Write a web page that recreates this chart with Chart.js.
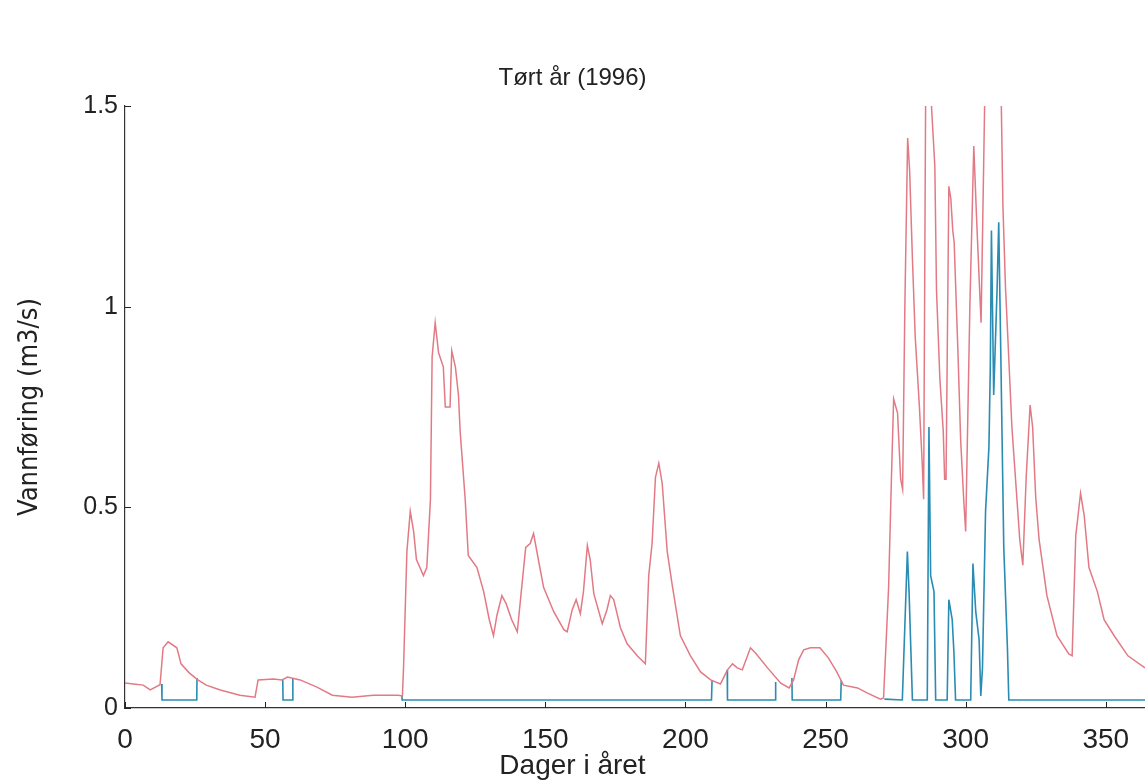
<!DOCTYPE html>
<html>
<head>
<meta charset="utf-8">
<script src="https://cdn.jsdelivr.net/npm/chart.js@4.4.1/dist/chart.umd.min.js"></script>
<style>
  html, body { margin: 0; padding: 0; background: #fff; }
  #wrap { width: 1145px; height: 783px; position: relative; }
</style>
</head>
<body>
<div id="wrap"><canvas id="flowChart"></canvas></div>
<script>
// Vannføring, tørt år 1996 (dag i året -> m3/s), lest av fra figuren
var redDays = [0, 3, 6.5, 9, 12.5, 13.6, 15.4, 18.5, 20, 23, 26, 29, 34, 41, 46.4, 47.5, 53, 56, 58, 62.5,
  68.5, 74, 81, 88.6, 97.5, 99, 99.4, 100.6, 101.8, 103, 104, 106.5, 107.7, 109, 109.6, 110.7, 111.9, 113.6,
  114.3, 116, 116.6, 117.9, 119, 119.6, 121.4, 122.5, 125.6, 128, 130, 131.5, 132.7, 134.5, 136, 138, 140,
  141.7, 143, 144.6, 145.8, 147.5, 149.4, 153, 156.6, 157.8, 159.6, 161, 162.5, 163.6, 165, 166, 167.3,
  170.3, 172, 173.2, 174.4, 176.8, 179.2, 182.8, 185.7, 186.9, 188.1, 189.3, 190.5, 191.7, 193.5, 195.2,
  198.2, 201.8, 205.4, 209, 212.5, 215, 216.8, 218.5, 220.3, 223.2, 225, 229.3, 234, 237, 238.6, 240.4,
  242.2, 244.6, 248, 251, 254, 256.4, 261.4, 265, 269.6, 270.7, 272.5, 273.5, 274.3, 275.7, 276.8, 277.5,
  278.3, 279.3, 280, 281, 282, 283.5, 284.5, 285, 285.7, 286.8, 287.8, 289, 289.6, 290.8, 292, 292.5, 293,
  294, 294.7, 295.4, 295.9, 297.3, 298.2, 299.3, 300, 301.5, 302.9, 303.9, 305, 305.5, 307, 310, 312.5,
  313.3, 314.2, 315.2, 316.5, 318, 319.3, 320.4, 321.6, 323, 323.9, 325, 326.2, 329, 332.6, 336.8, 338,
  339.3, 341, 342.3, 344, 347, 349.4, 353, 357.9, 364];
var redFlow = [0.062, 0.060, 0.057, 0.045, 0.058, 0.15, 0.165, 0.15, 0.11, 0.087, 0.07, 0.057, 0.045, 0.032, 0.027, 0.07, 0.072, 0.07, 0.077, 0.07,
  0.052, 0.032, 0.027, 0.032, 0.032, 0.03, 0.10, 0.39, 0.49, 0.44, 0.37, 0.33, 0.35, 0.52, 0.875, 0.96, 0.885, 0.85,
  0.75, 0.75, 0.89, 0.85, 0.78, 0.69, 0.52, 0.38, 0.35, 0.29, 0.22, 0.18, 0.23, 0.28, 0.26, 0.22, 0.19,
  0.31, 0.40, 0.41, 0.435, 0.37, 0.30, 0.24, 0.195, 0.19, 0.245, 0.27, 0.235, 0.29, 0.405, 0.37, 0.285,
  0.21, 0.245, 0.28, 0.27, 0.20, 0.16, 0.13, 0.11, 0.33, 0.41, 0.575, 0.61, 0.56, 0.39, 0.31,
  0.18, 0.13, 0.09, 0.07, 0.06, 0.095, 0.11, 0.10, 0.095, 0.15, 0.137, 0.10, 0.062, 0.05, 0.07, 0.12,
  0.145, 0.15, 0.15, 0.125, 0.09, 0.057, 0.05, 0.037, 0.022, 0.025, 0.30, 0.57, 0.77, 0.735, 0.57, 0.545,
  1.0, 1.42, 1.34, 1.12, 0.925, 0.75, 0.61, 0.52, 1.5, 1.7, 1.5, 1.35, 1.04, 0.82, 0.69, 0.57, 0.57,
  1.3, 1.27, 1.19, 1.16, 0.875, 0.67, 0.52, 0.44, 1.0, 1.40, 1.22, 1.04, 0.96, 1.6, 1.9, 1.6,
  1.25, 1.05, 0.9, 0.7, 0.55, 0.42, 0.356, 0.575, 0.755, 0.70, 0.525, 0.42, 0.28, 0.18, 0.135, 0.13,
  0.43, 0.535, 0.48, 0.35, 0.29, 0.22, 0.18, 0.13, 0.10];

// blå serie: null der den ligger under den røde
var blueDays = [13.1, 13.2, 25.6, 25.7, 30, 56.3, 56.4, 59.8, 59.9, 70, 98.8, 98.9, 209.3, 209.5, 212,
  214.9, 215, 232, 232.2, 235, 238, 238.1, 255.4, 255.6, 262, 271, 277.4, 279.2, 279.8, 281, 286.3,
  286.9, 287.5, 288.7, 289.3, 293.4, 294, 295.2, 295.8, 296.4, 301.8, 302.6, 303.6, 304.8, 305.4, 306,
  307.1, 308.3, 308.8, 309.2, 310, 311.2, 311.8, 312.5, 313.6, 314.9, 315.4, 364];
var blueFlow = [0.06, 0.02, 0.02, 0.075, null, 0.07, 0.02, 0.02, 0.075, null, 0.032, 0.02, 0.02, 0.07, null,
  0.095, 0.02, 0.02, 0.065, null, 0.075, 0.02, 0.02, 0.07, null, 0.022, 0.02, 0.39, 0.29, 0.02, 0.02,
  0.70, 0.33, 0.29, 0.02, 0.02, 0.27, 0.22, 0.14, 0.02, 0.02, 0.36, 0.24, 0.17, 0.03, 0.1,
  0.49, 0.65, 0.85, 1.19, 0.78, 1.04, 1.21, 0.9, 0.4, 0.15, 0.02, 0.02];

var yTicks = [0, 0.5, 1, 1.5];
var yTickLabels = ['0', '0.5', '1', '1.5'];
var xTicks = [0, 50, 100, 150, 200, 250, 300, 350];

function toPoints(days, vals) {
    return days.map(function (d, i) { return { x: d, y: vals[i] }; });
}

// små tick-streker som peker inn i plottet
var innerTicks = {
    id: 'innerTicks',
    afterDatasetsDraw: function (chart) {
        var ctx = chart.ctx, area = chart.chartArea;
        var xs = chart.scales.x, ys = chart.scales.y;
        ctx.save();
        ctx.strokeStyle = '#222';
        ctx.lineWidth = 1;
        ctx.beginPath();
        xTicks.forEach(function (v) {
            var px = Math.round(xs.getPixelForValue(v)) + 0.5;
            ctx.moveTo(px, area.bottom);
            ctx.lineTo(px, area.bottom - 6);
        });
        yTicks.forEach(function (v) {
            var py = Math.round(ys.getPixelForValue(v)) + 0.5;
            ctx.moveTo(area.left, py);
            ctx.lineTo(area.left + 6, py);
        });
        ctx.stroke();
        ctx.restore();
    }
};

var font = "'Liberation Sans', Arial, sans-serif";

var ctx = document.getElementById('flowChart').getContext('2d');
var flowChart = new Chart(ctx, {
    type: 'line',
    data: {
        datasets: [{
            label: 'Vannføring',
            data: toPoints(redDays, redFlow),
            borderColor: '#e27a85',
            borderWidth: 1.5,
            pointRadius: 0,
            tension: 0
        }, {
            label: 'Restvannføring',
            data: toPoints(blueDays, blueFlow),
            borderColor: '#2a8cb3',
            borderWidth: 1.6,
            pointRadius: 0,
            tension: 0,
            spanGaps: false
        }]
    },
    options: {
        responsive: true,
        maintainAspectRatio: false,
        animation: false,
        layout: { padding: 0 },
        plugins: {
            legend: { display: false },
            tooltip: { enabled: false },
            title: {
                display: true,
                text: 'Tørt år (1996)',
                color: '#222',
                font: { family: font, size: 24, weight: 'normal' },
                padding: { top: 63.6, bottom: 13.6 }
            },
            subtitle: {
                display: true,
                position: 'bottom',
                text: 'Dager i året',
                color: '#222',
                font: { family: font, size: 28, weight: 'normal' },
                padding: { top: 0, bottom: 0 }
            }
        },
        scales: {
            x: {
                type: 'linear',
                min: 0,
                max: 364,
                grid: { display: false, drawTicks: false },
                border: { display: true, color: '#333', width: 1.2 },
                ticks: {
                    stepSize: 50,
                    includeBounds: false,
                    autoSkip: false,
                    maxRotation: 0,
                    padding: 15,
                    color: '#222',
                    font: { family: font, size: 28 }
                },
                afterFit: function (scale) {
                    scale.height = 41.4;
                    scale.paddingRight = 0;
                }
            },
            y: {
                min: 0,
                max: 1.5,
                grid: { display: false, drawTicks: false },
                border: { display: true, color: '#333', width: 1.2 },
                ticks: {
                    stepSize: 0.5,
                    padding: 7,
                    color: '#222',
                    font: { family: font, size: 25 },
                    callback: function (value) {
                        var i = yTicks.indexOf(value);
                        return i >= 0 ? yTickLabels[i] : '';
                    }
                },
                title: {
                    display: true,
                    text: 'Vannføring (m3/s)',
                    color: '#222',
                    font: { family: "'Liberation Sans Narrow', 'DejaVu Sans Condensed', 'Liberation Sans', sans-serif", size: 27 },
                    padding: { top: 14, bottom: 0 }
                },
                afterFit: function (scale) {
                    scale.width = 125;
                }
            }
        }
    },
    plugins: [innerTicks]
});
</script>
</body>
</html>
